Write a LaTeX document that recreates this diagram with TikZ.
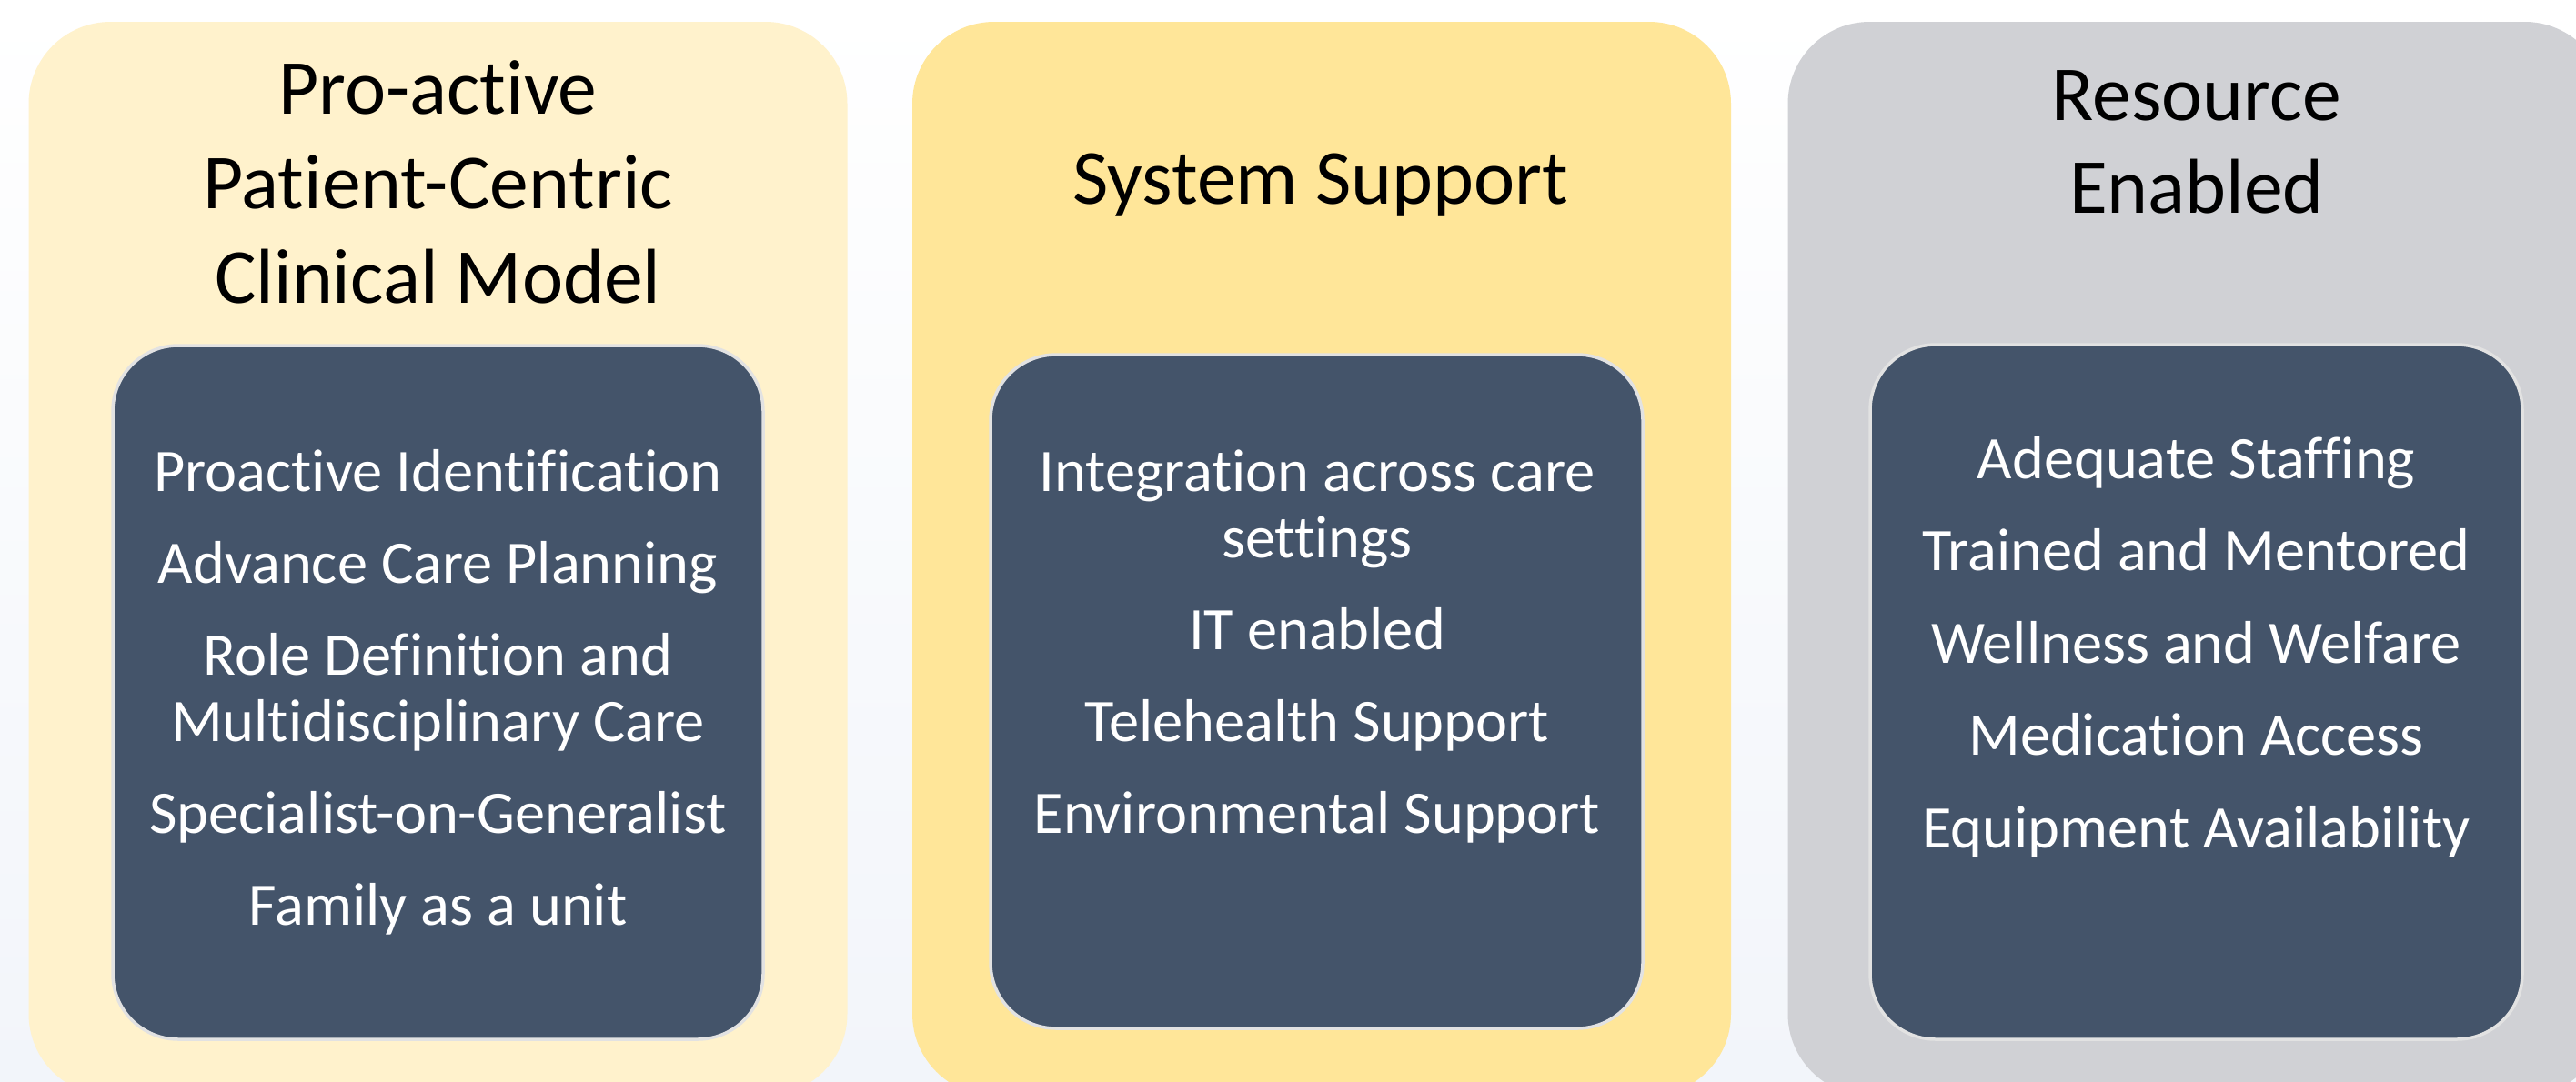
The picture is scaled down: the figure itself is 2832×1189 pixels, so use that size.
\documentclass[tikz,border=0pt]{standalone}
\usepackage{fontspec}
\setmainfont[Ligatures=NoCommon]{Carlito}
\definecolor{paleGold}{HTML}{FFF2CC}
\definecolor{gold}{HTML}{FFE699}
\definecolor{silver}{HTML}{D0D1D5}
\definecolor{slate}{HTML}{44546A}
\definecolor{rim}{HTML}{E2E2E2}
\definecolor{mist}{HTML}{F2F5FA}
\begin{document}
\begin{tikzpicture}[x=0.5pt,y=-0.5pt,
  column/.style={rectangle, rounded corners=45pt, minimum width=450pt,
    minimum height=590.5pt, inner sep=0pt, draw=none},
  panel/.style={rectangle, rounded corners=36pt, fill=slate, draw=rim,
    line width=1.75pt, inner sep=0pt},
  heading/.style={anchor=base, inner sep=0pt, text=black,
    font=\fontsize{42.8pt}{52pt}\selectfont},
  item/.style={anchor=base, inner sep=0pt, text=white,
    font=\fontsize{33.2pt}{36.75pt}\selectfont}]

% page with a soft vertical fade
\useasboundingbox (0,0) rectangle (2832,1189);
\clip (0,0) rectangle (2832,1189);
\shade[top color=white, bottom color=mist] (0,0) rectangle (2832,1189);

% three pillars
\node[column, fill=paleGold] (clinical) at (481.5,614.5) {};
\node[column, fill=gold]     (system)   at (1453,614.5)  {};
\node[column, fill=silver]   (resource) at (2415.5,614.5) {};

% inner panels
\node[panel, minimum width=357.5pt, minimum height=381.5pt] (clinicalPanel) at (481.5,761.5) {};
\node[panel, minimum width=358.5pt, minimum height=370.5pt] (systemPanel)   at (1447.5,760.5) {};
\node[panel, minimum width=358.5pt, minimum height=382pt]   (resourcePanel) at (2414.5,761) {};

% headings
\node[heading] (h1a) at (481.5,125) {Pro-active};
\node[heading] (h1b) at (481.5,229) {Patient-Centric};
\node[heading] (h1c) at (481.5,333) {Clinical Model};
\node[heading] (h2)  at (1452,224)  {System Support};
\node[heading] (h3a) at (2415,132)  {Resource};
\node[heading] (h3b) at (2415,234)  {Enabled};

% clinical model items
\node[item] (c1)  at (481.5,540)    {Proactive Identification};
\node[item] (c2)  at (481.5,641)    {Advance Care Planning};
\node[item] (c3a) at (481.5,742)    {Role Definition and};
\node[item] (c3b) at (481.5,815.5)  {Multidisciplinary Care};
\node[item] (c4)  at (481.5,916.5)  {Specialist-on-Generalist};
\node[item] (c5)  at (481.5,1017.5) {Family as a unit};

% system support items
\node[item] (s1a) at (1448,540)   {Integration across care};
\node[item] (s1b) at (1448,613.5) {settings};
\node[item] (s2)  at (1448,714.5) {IT enabled};
\node[item] (s3)  at (1448,815.5) {Telehealth Support};
\node[item] (s4)  at (1448,916.5) {Environmental Support};

% resource items
\node[item] (r1) at (2414.5,526)   {Adequate Staffing};
\node[item] (r2) at (2414.5,627.5) {Trained and Mentored};
\node[item] (r3) at (2414.5,729)   {Wellness and Welfare};
\node[item] (r4) at (2414.5,830.5) {Medication Access};
\node[item] (r5) at (2414.5,932)   {Equipment Availability};
\end{tikzpicture}
\end{document}
